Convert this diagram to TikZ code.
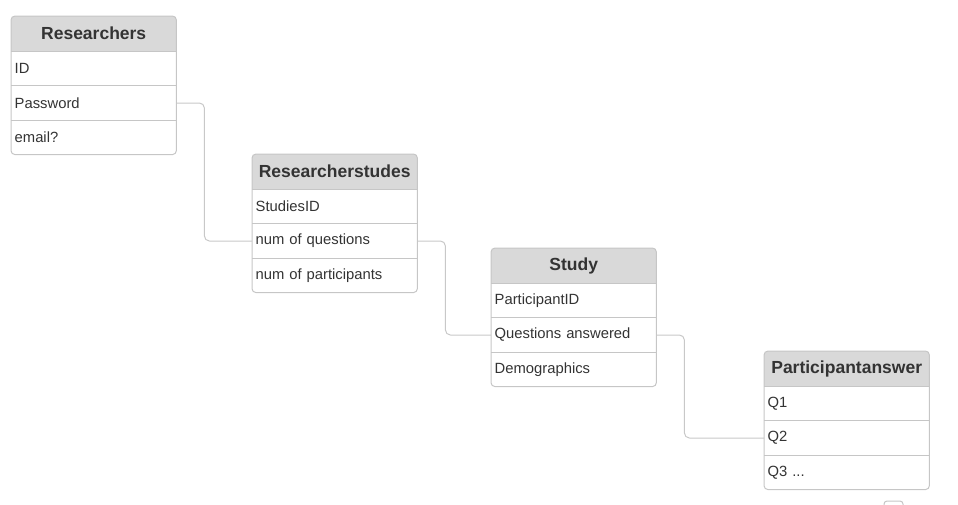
\documentclass[tikz,border=0pt]{standalone}
\usepackage{fontspec}
\setmainfont{Liberation Sans}
\usetikzlibrary{positioning, backgrounds}

\definecolor{hdrgray}{HTML}{D9D9D9}
\definecolor{edgegray}{HTML}{C6C6C6}
\definecolor{linkgray}{HTML}{C8C8C8}
\definecolor{txtgray}{HTML}{333333}

\begin{document}
\begin{tikzpicture}[
  x=1pt, y=-1pt,
  title/.style={rectangle, minimum width=165pt, minimum height=35pt, inner sep=0pt, font=\bfseries\fontsize{17.5}{20}\selectfont, text=txtgray},
  field/.style={rectangle, minimum width=165pt, minimum height=34pt, text width=158pt, inner xsep=3.5pt, inner ysep=0pt, align=left, font=\fontsize{14.8}{17}\selectfont, text=txtgray},
  sepline/.style={draw=edgegray, line width=1pt},
  frame/.style={draw=edgegray, line width=1pt, rounded corners=4pt},
  link/.style={draw=linkgray, line width=1pt, rounded corners=5pt}
]
\useasboundingbox (0,0) rectangle (958,504);

% Researchers table
\node[title, anchor=north west] (Researchers) at (11,16) {Researchers};
\node[field, below=0pt of Researchers] (ResID) {ID};
\node[field, below=0pt of ResID] (ResPassword) {Password};
\node[field, below=0pt of ResPassword] (ResEmail) {email?};

% Researcherstudes table
\node[title, anchor=north west] (Researcherstudes) at (252,154) {Researcherstudes};
\node[field, below=0pt of Researcherstudes] (RsStudiesID) {StudiesID};
\node[field, below=0pt of RsStudiesID] (RsQuestions) {num of questions};
\node[field, below=0pt of RsQuestions] (RsParticipants) {num of participants};

% Study table
\node[title, anchor=north west] (Study) at (491,248) {Study};
\node[field, below=0pt of Study] (StParticipantID) {ParticipantID};
\node[field, below=0pt of StParticipantID] (StAnswered) {Questions answered};
\node[field, below=0pt of StAnswered] (StDemographics) {Demographics};

% Participantanswer table
\node[title, anchor=north west] (Participantanswer) at (764,351) {Participantanswer};
\node[field, below=0pt of Participantanswer] (PaQ1) {Q1};
\node[field, below=0pt of PaQ1] (PaQ2) {Q2};
\node[field, below=0pt of PaQ2] (PaQ3) {Q3 ...};

% header fills behind the titles
\begin{scope}[on background layer]
  \foreach \t in {Researchers, Researcherstudes, Study, Participantanswer} {
    \fill[hdrgray, rounded corners=4pt] (\t.north west) rectangle (\t.south east);
    \fill[hdrgray] (\t.west) rectangle (\t.south east);
  }
\end{scope}

% row separators and outer frames
\foreach \r in {ResID, ResPassword, ResEmail, RsStudiesID, RsQuestions, RsParticipants,
                StParticipantID, StAnswered, StDemographics, PaQ1, PaQ2, PaQ3}
  \draw[sepline] (\r.north west) -- (\r.north east);
\foreach \t/\b in {Researchers/ResEmail, Researcherstudes/RsParticipants,
                   Study/StDemographics, Participantanswer/PaQ3}
  \draw[frame] (\t.north west) rectangle (\b.south east);

% Connectors
\draw[link] (ResPassword.east) -- ++(28,0) |- (RsQuestions.west);
\draw[link] (RsQuestions.east) -- ++(28,0) |- (StAnswered.west);
\draw[link] (StAnswered.east) -- ++(28,0) |- (PaQ2.west);

% cut-off box at the lower edge
\draw[edgegray, line width=1pt, rounded corners=3pt] (884,512) -- (884,501) -- (903,501) -- (903,512);

\end{tikzpicture}
\end{document}
